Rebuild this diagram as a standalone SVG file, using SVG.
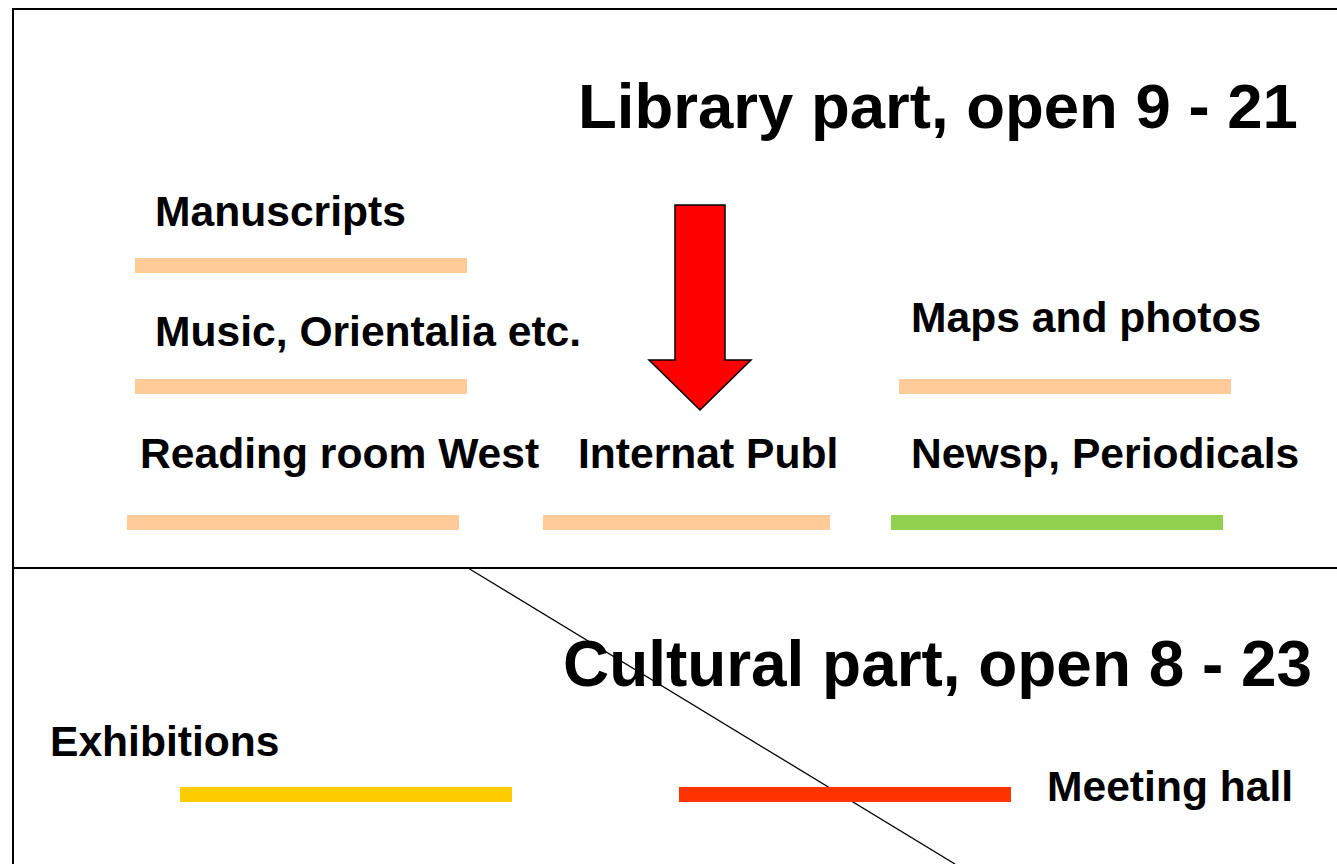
<svg xmlns="http://www.w3.org/2000/svg" width="1337" height="864" viewBox="0 0 1337 864">
<style>
text{font-family:"Liberation Sans",Arial,sans-serif;font-weight:bold;fill:#000}
.t{font-size:63.5px}
.l{font-size:42.6px}
.bar{stroke:none}
.peach{fill:#FFCC99}
</style>
<rect width="1337" height="864" fill="#fff"/>
<g id="frame" fill="none" stroke="#000" stroke-width="2">
<path d="M13,870 V9 H1345"/>
<line x1="13" y1="568" x2="1345" y2="568"/>
</g>
<g id="connectors">
<line x1="468" y1="568" x2="955" y2="864" stroke="#000" stroke-width="1.3"/>
</g>
<g id="library-title"><text class="t" x="578" y="128">Library part, open 9 - 21</text></g>
<g id="arrow"><polygon points="675,205 725,205 725,360 751,360 700,410 649,360 675,360" fill="#FF0000" stroke="#000" stroke-width="1.5"/></g>
<g id="manuscripts"><text class="l" x="155" y="226">Manuscripts</text><rect class="bar peach" x="135" y="258" width="332" height="15"/></g>
<g id="music"><text class="l" x="155" y="346">Music, Orientalia etc.</text><rect class="bar peach" x="135" y="379" width="332" height="15"/></g>
<g id="maps"><text class="l" x="911" y="332">Maps and photos</text><rect class="bar peach" x="899" y="379" width="332" height="15"/></g>
<g id="reading"><text class="l" x="140" y="468">Reading room West</text><rect class="bar peach" x="127" y="515" width="332" height="15"/></g>
<g id="internat"><text class="l" x="578" y="468">Internat Publ</text><rect class="bar peach" x="543" y="515" width="287" height="15"/></g>
<g id="newsp"><text class="l" x="911" y="468">Newsp, Periodicals</text><rect class="bar" fill="#92D050" x="891" y="515" width="332" height="15"/></g>
<g id="cultural-title"><text class="t" x="563" y="686" style="font-size:63.9px">Cultural part, open 8 - 23</text></g>
<g id="exhibitions"><text class="l" x="50" y="756">Exhibitions</text><rect class="bar" fill="#FFCC00" x="180" y="787" width="332" height="15"/></g>
<g id="meeting"><text class="l" x="1047" y="801">Meeting hall</text><rect class="bar" fill="#FF3300" x="679" y="787" width="332" height="15"/></g>
</svg>
